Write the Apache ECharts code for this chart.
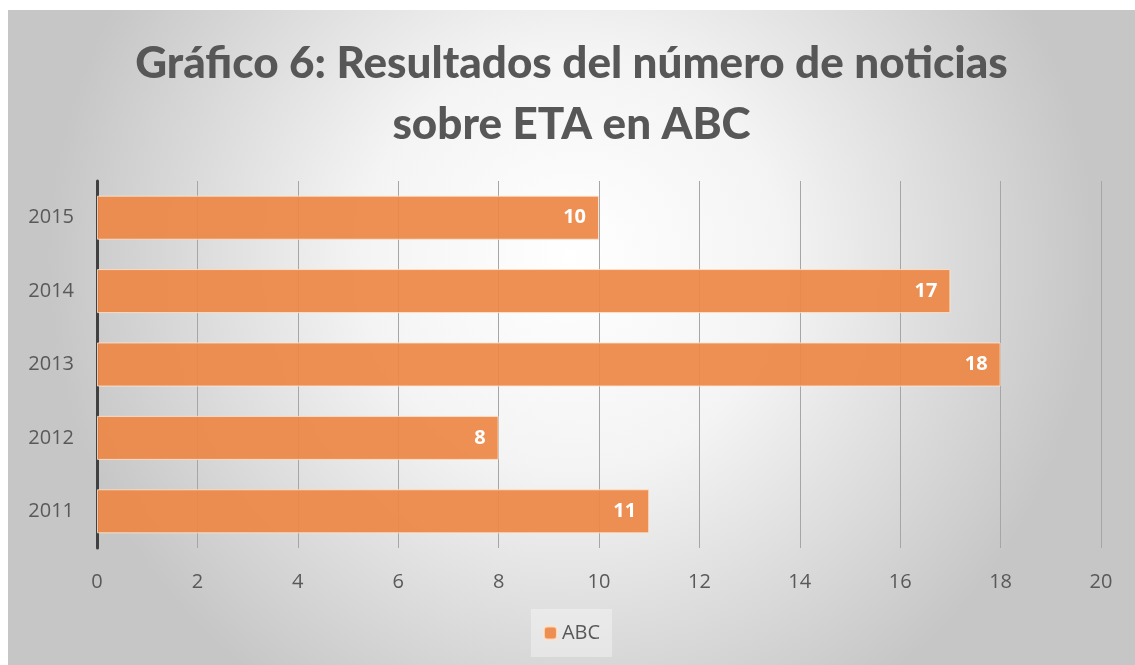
<!DOCTYPE html>
<html>
<head>
<meta charset="utf-8">
<script src="https://cdn.jsdelivr.net/npm/echarts@6/dist/echarts.min.js"></script>
<style>
	html, body { margin: 0; padding: 0; background: #fff; }
	#abc-bar { position: absolute; left: 8px; top: 10px; width: 1127px; height: 655px; }
</style>
</head>
<body>
<div id="abc-bar"></div>
<script>
var years = ['2011', '2012', '2013', '2014', '2015'];
var abcValues = [11, 8, 18, 17, 10];
var xTicks = [0, 2, 4, 6, 8, 10, 12, 14, 16, 18, 20];
var seriesName = 'ABC';
var titleText = 'Gráfico 6: Resultados del número de noticias\nsobre ETA en ABC';

function initAbcBar() {
	var abcBarOption = {
		animation : false,
		backgroundColor : {
			type : 'radial',
			x : 0.5, y : 0.38, r : 0.8,
			colorStops : [
				{ offset : 0, color : '#ffffff' },
				{ offset : 0.4, color : '#f4f4f4' },
				{ offset : 1, color : '#c6c6c6' }
			]
		},
		title : {
			text : titleText,
			left : 'center',
			top : 18,
			textStyle : {
				color : '#575757',
				fontFamily : 'Lato',
				fontWeight : 900,
				fontSize : 44,
				lineHeight : 61
			}
		},
		legend : {
			bottom : 8,
			left : 'center',
			data : [seriesName],
			itemWidth : 13,
			itemHeight : 13,
			itemGap : 6,
			padding : [14, 12, 14, 12],
			backgroundColor : 'rgba(255,255,255,0.35)',
			textStyle : { color : '#595959', fontSize : 20, fontFamily : 'Open Sans' }
		},
		grid : { left : 89, right : 34, top : 171, bottom : 117 },
		xAxis : {
			type : 'value',
			min : xTicks[0],
			max : xTicks[xTicks.length - 1],
			interval : 2,
			axisLine : { show : false },
			axisTick : { show : false },
			axisLabel : { color : '#595959', fontSize : 20, fontFamily : 'Open Sans', margin : 24 },
			splitLine : { lineStyle : { color : '#a6a6a6', width : 1 } }
		},
		yAxis : {
			type : 'category',
			data : years,
			axisLine : { lineStyle : { color : '#404040', width : 3 } },
			axisTick : { show : false },
			axisLabel : { color : '#595959', fontSize : 20, fontFamily : 'Open Sans', margin : 23 }
		},
		series : [ {
			name : seriesName,
			type : 'bar',
			data : abcValues,
			barWidth : '60%',
			itemStyle : {
				color : 'rgba(237,136,70,0.93)',
				borderColor : 'rgba(255,230,210,0.8)',
				borderWidth : 1
			},
			label : {
				show : true,
				position : 'insideRight',
				distance : 13,
				color : '#fff',
				fontWeight : 'bold',
				fontSize : 20,
				fontFamily : 'Open Sans'
			}
		} ]
	};
	var abcBar = echarts.init(document.getElementById('abc-bar'));
	abcBar.setOption(abcBarOption);
}
initAbcBar();
</script>
</body>
</html>
